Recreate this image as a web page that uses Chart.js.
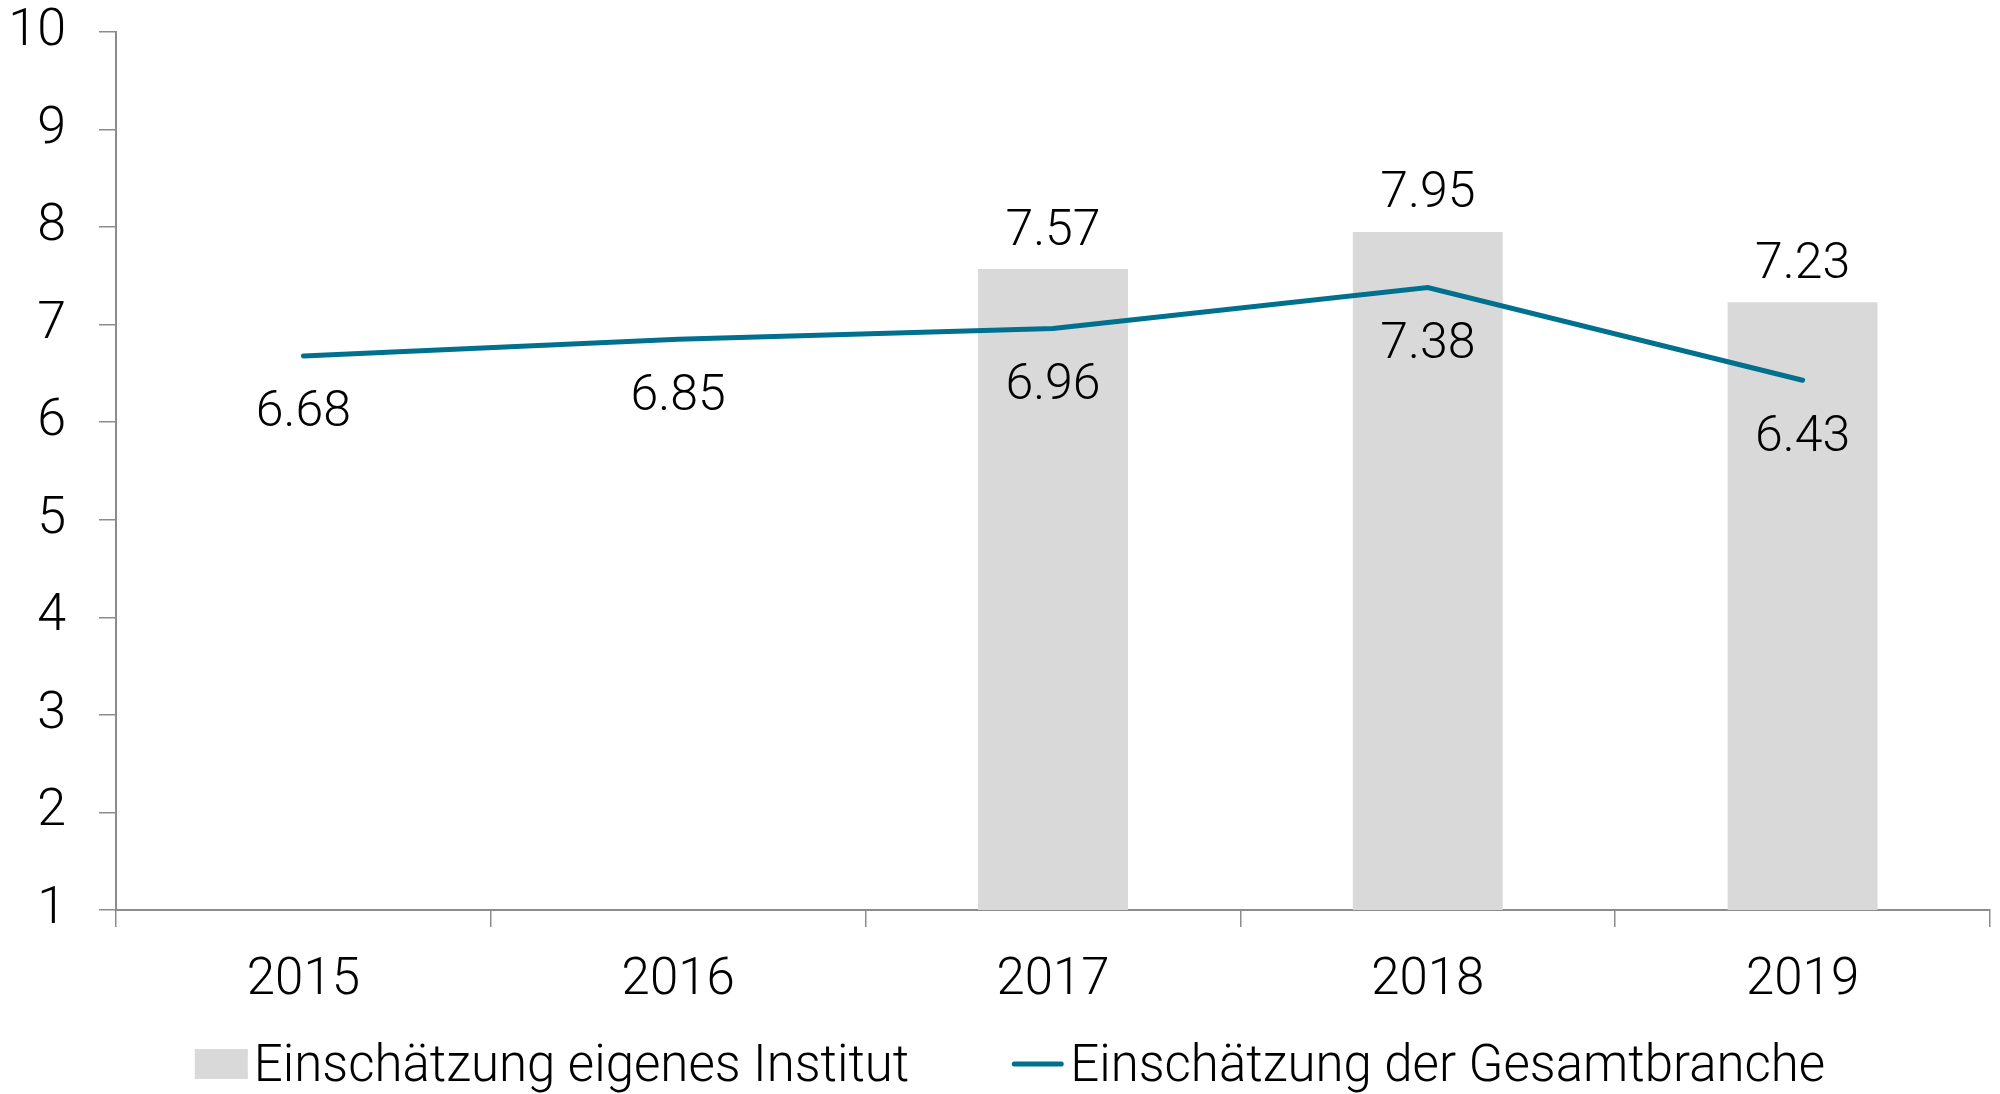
<!DOCTYPE html>
<html lang="de">
<head>
<meta charset="UTF-8">
<title>Einschätzung</title>
<style>
  html, body { margin: 0; padding: 0; background: #fff; }
  #wrap { width: 2000px; height: 1094px; }
</style>
</head>
<body>
<div id="wrap"><canvas id="chart"></canvas></div>
<script src="https://cdn.jsdelivr.net/npm/chart.js"></script>
<script>
const years = ['2015', '2016', '2017', '2018', '2019'];
const eigenesInstitut = [null, null, 7.57, 7.95, 7.23];
const gesamtbranche = [6.68, 6.85, 6.96, 7.38, 6.43];
const yTicks = [1, 2, 3, 4, 5, 6, 7, 8, 9, 10];

const FONT = 'Roboto, "Liberation Sans", sans-serif';
const lineColor = '#00708f';
const barColor = '#d9d9d9';
const axisColor = '#8c8c8c';

// value labels: above bars, below line points
const valueLabels = {
  id: 'valueLabels',
  afterDatasetsDraw(chart) {
    const ctx = chart.ctx;
    ctx.save();
    ctx.font = '300 50px ' + FONT;
    ctx.fillStyle = '#000';
    ctx.textAlign = 'center';
    ctx.textBaseline = 'middle';
    chart.data.datasets.forEach((ds, i) => {
      const meta = chart.getDatasetMeta(i);
      meta.data.forEach((el, j) => {
        const v = ds.data[j];
        if (v == null) return;
        const dy = ds.type === 'bar' ? -37 : 58;
        ctx.fillText(v.toFixed(2), el.x, el.y + dy);
      });
    });
    ctx.restore();
  }
};

// legend under the axis, tighter than the built-in one (bar first, then line)
const bottomLegend = {
  id: 'bottomLegend',
  afterDraw(chart) {
    const ctx = chart.ctx;
    const items = [chart.data.datasets[1], chart.data.datasets[0]];
    const yMid = 1064;
    const markW = 53, markGap = 6, itemGap = 102;
    ctx.save();
    ctx.font = '300 51px ' + FONT;
    const widths = items.map(ds => ctx.measureText(ds.label).width);
    const total = widths.reduce((a, w) => a + w + markW + markGap, 0) + itemGap;
    let x = 1010 - total / 2;
    items.forEach((ds, i) => {
      if (ds.type === 'bar') {
        ctx.fillStyle = ds.backgroundColor;
        ctx.fillRect(x, yMid - 15, markW, 30);
      } else {
        ctx.strokeStyle = ds.borderColor;
        ctx.lineWidth = 5;
        ctx.lineCap = 'round';
        ctx.beginPath();
        ctx.moveTo(x + 3, yMid);
        ctx.lineTo(x + markW - 3, yMid);
        ctx.stroke();
      }
      x += markW + markGap;
      ctx.fillStyle = '#000';
      ctx.textBaseline = 'alphabetic';
      ctx.fillText(ds.label, x, yMid + 17);
      x += widths[i] + itemGap;
    });
    ctx.restore();
  }
};

new Chart(document.getElementById('chart'), {
  data: {
    labels: years,
    datasets: [
      { type: 'line', label: 'Einschätzung der Gesamtbranche', data: gesamtbranche,
        borderColor: lineColor, backgroundColor: lineColor, borderWidth: 5,
        borderCapStyle: 'round', pointRadius: 0, order: 0 },
      { type: 'bar', label: 'Einschätzung eigenes Institut', data: eigenesInstitut,
        backgroundColor: barColor, borderWidth: 0,
        barPercentage: 0.8, categoryPercentage: 0.5, order: 1 }
    ]
  },
  options: {
    responsive: true,
    maintainAspectRatio: false,
    animation: false,
    layout: { padding: { left: 0, right: 10, top: 32, bottom: 83 } },
    plugins: {
      tooltip: { enabled: false },
      legend: { display: false }
    },
    scales: {
      x: {
        offset: true,
        afterFit(scale) { scale.height = 101; },
        grid: { display: true, drawOnChartArea: false, offset: true, color: axisColor, tickLength: 17, lineWidth: 1.5 },
        border: { color: axisColor, width: 2 },
        ticks: { color: '#000', padding: 24, font: { family: FONT, size: 51, weight: '300' } }
      },
      y: {
        min: 1,
        max: 10,
        afterBuildTicks(scale) { scale.ticks = yTicks.map(v => ({ value: v })); },
        afterFit(scale) { scale.width = 116; scale.paddingTop = 0; scale.paddingBottom = 0; },
        grid: { display: true, drawOnChartArea: false, color: axisColor, tickLength: 17, lineWidth: 1.5 },
        border: { color: axisColor, width: 2 },
        ticks: { color: '#000', padding: 33, font: { family: FONT, size: 52, weight: '300' } }
      }
    }
  },
  plugins: [valueLabels, bottomLegend]
});
</script>
</body>
</html>
